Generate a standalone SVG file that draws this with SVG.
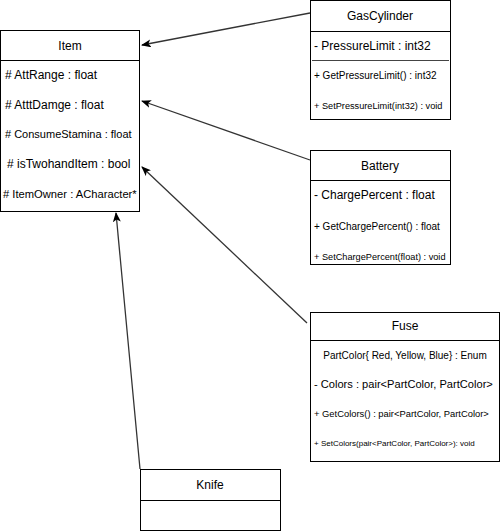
<svg xmlns="http://www.w3.org/2000/svg" width="501" height="532" viewBox="0 0 501 532">
<style>
.box{fill:#fff;stroke:#000;stroke-width:1}
.sep{stroke:#000;stroke-width:1}
text{font-family:"Liberation Sans",Arial,sans-serif;fill:#000}
.t{font-size:12px;text-anchor:middle}
.a{font-size:12px}
.m{font-size:11px}
.g{font-size:10px}
.s{font-size:9.2px}
.c{stroke:#333;stroke-width:1.3;fill:none;marker-end:url(#blk)}
</style>
<defs>
<marker id="blk" viewBox="0 0 10 8" refX="9" refY="4" markerWidth="10" markerHeight="8" markerUnits="userSpaceOnUse" orient="auto">
<path d="M0,0 L10,4 L0,8 L2.5,4 Z" fill="#000"/>
</marker>
</defs>
<g id="connectors">
<line class="c" x1="310" y1="13" x2="142" y2="45"/>
<line class="c" x1="310" y1="160" x2="142" y2="101"/>
<line class="c" x1="307" y1="323" x2="142" y2="167"/>
<line class="c" x1="140" y1="469" x2="116" y2="213"/>
</g>
<g id="item">
<rect class="box" x="0.5" y="30.5" width="139" height="181"/>
<line class="sep" x1="0.5" y1="60.5" x2="139.5" y2="60.5"/>
<text class="t" x="70" y="49.5">Item</text>
<text class="a" x="5" y="78.5"># AttRange : float</text>
<text class="a" x="5" y="108.5"># AtttDamge : float</text>
<text class="m" x="5" y="138"># ConsumeStamina : float</text>
<text class="a" x="7" y="168"># isTwohandItem : bool</text>
<text x="3" y="198" style="font-size:11.2px">#  ItemOwner : ACharacter*</text>
</g>
<g id="gascylinder">
<rect class="box" x="310.5" y="0.5" width="140" height="119"/>
<line class="sep" x1="310.5" y1="31.5" x2="450.5" y2="31.5"/>
<line x1="312" y1="60.5" x2="449" y2="60.5" stroke="#444" stroke-width="1"/>
<text class="t" x="380" y="20">GasCylinder</text>
<text class="a" x="314" y="49.5">- PressureLimit : int32</text>
<text class="g" x="314" y="78.5">+ GetPressureLimit() : int32</text>
<text class="s" x="314" y="108.5">+ SetPressureLimit(int32) : void</text>
</g>
<g id="battery">
<rect class="box" x="310.5" y="150.5" width="140" height="114"/>
<line class="sep" x1="310.5" y1="180.5" x2="450.5" y2="180.5"/>
<text class="t" x="380" y="169.5">Battery</text>
<text class="a" x="314" y="198.5">- ChargePercent : float</text>
<text class="g" x="314" y="229.5">+ GetChargePercent() : float</text>
<text class="s" x="314" y="259.5">+ SetChargePercent(float) : void</text>
</g>
<g id="fuse">
<rect class="box" x="310.5" y="312.5" width="189" height="149"/>
<line class="sep" x1="310.5" y1="340.5" x2="499.5" y2="340.5"/>
<text class="t" x="405" y="329.5">Fuse</text>
<text x="405" y="358.5" style="font-size:10px;text-anchor:middle">PartColor{ Red, Yellow, Blue} : Enum</text>
<text x="314" y="388" style="font-size:11.1px">- Colors : pair&lt;PartColor, PartColor&gt;</text>
<text x="314" y="416.5" style="font-size:9.4px">+ GetColors() : pair&lt;PartColor, PartColor&gt;</text>
<text x="314" y="446" style="font-size:8px">+ SetColors(pair&lt;PartColor, PartColor&gt;): void</text>
</g>
<g id="knife">
<rect class="box" x="140.5" y="469.5" width="140" height="61"/>
<line class="sep" x1="140.5" y1="500.5" x2="280.5" y2="500.5"/>
<text class="t" x="210" y="489">Knife</text>
</g>
</svg>
